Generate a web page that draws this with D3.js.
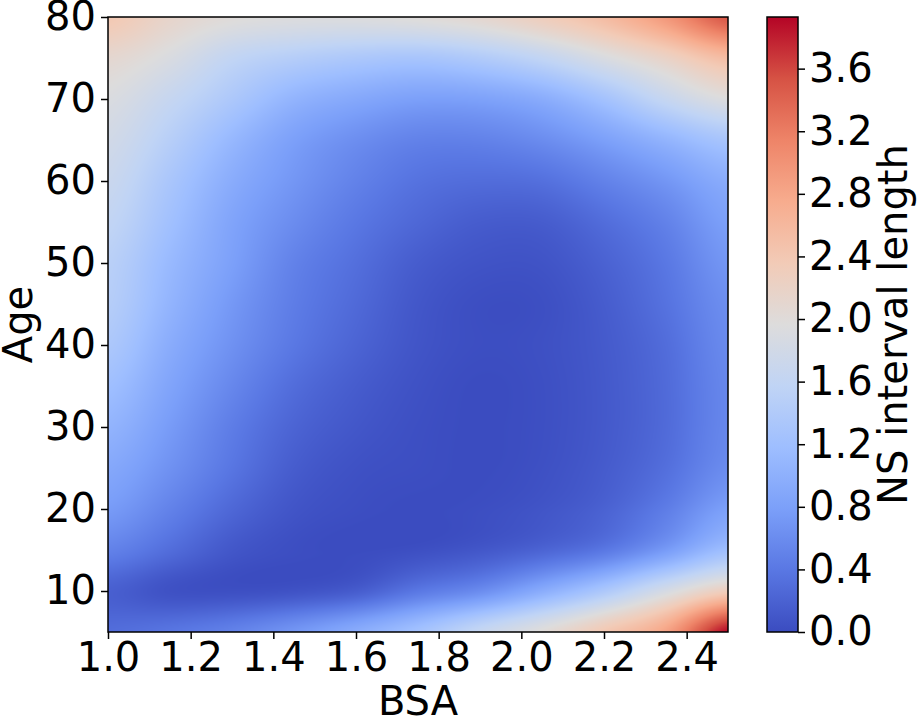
<!DOCTYPE html>
<html>
<head>
<meta charset="utf-8">
<script src="https://cdn.jsdelivr.net/npm/d3@7"></script>
<style>
  body { margin: 0; background: #fff; }
  text { font-family: "DejaVu Sans", sans-serif; fill: #000; }
</style>
</head>
<body>
<svg id="chart" width="918" height="719"></svg>
<script>
// grid the surface was read on
const bsaValues = [1.0, 1.15, 1.3, 1.45, 1.6, 1.75, 1.9, 2.05, 2.2, 2.35, 2.5];
const ageValues = [5, 10, 15, 20, 25, 30, 35, 40, 45, 50, 55, 60, 65, 70, 75, 80];

// NS interval length, one row per age (5 -> 80), one column per BSA value
const nsLength = [
  [0.30, 0.38, 0.50, 0.70, 0.95, 1.25, 1.65, 2.00, 2.40, 2.85, 3.90],
  [0.18, 0.05, 0.03, 0.06, 0.15, 0.40, 0.60, 0.95, 1.35, 1.85, 2.30],
  [0.50, 0.30, 0.10, 0.02, 0.00, 0.03, 0.10, 0.22, 0.40, 0.75, 1.20],
  [0.75, 0.50, 0.25, 0.08, 0.02, 0.00, 0.02, 0.08, 0.20, 0.45, 0.80],
  [0.90, 0.65, 0.38, 0.15, 0.05, 0.02, 0.00, 0.04, 0.14, 0.32, 0.60],
  [1.05, 0.75, 0.45, 0.22, 0.10, 0.03, 0.00, 0.03, 0.12, 0.28, 0.55],
  [1.20, 0.85, 0.55, 0.30, 0.15, 0.05, 0.00, 0.03, 0.12, 0.28, 0.55],
  [1.35, 0.95, 0.65, 0.40, 0.22, 0.08, 0.02, 0.04, 0.13, 0.30, 0.58],
  [1.45, 1.05, 0.72, 0.45, 0.27, 0.10, 0.02, 0.03, 0.15, 0.35, 0.62],
  [1.50, 1.12, 0.80, 0.50, 0.32, 0.15, 0.07, 0.07, 0.20, 0.40, 0.70],
  [1.60, 1.22, 0.85, 0.60, 0.40, 0.25, 0.15, 0.15, 0.30, 0.50, 0.80],
  [1.70, 1.32, 0.95, 0.70, 0.50, 0.35, 0.30, 0.33, 0.50, 0.70, 0.95],
  [1.80, 1.47, 1.10, 0.80, 0.62, 0.50, 0.50, 0.60, 0.80, 1.05, 1.30],
  [1.92, 1.65, 1.35, 1.05, 0.90, 0.80, 0.82, 0.95, 1.25, 1.65, 1.95],
  [2.10, 1.90, 1.60, 1.45, 1.35, 1.30, 1.40, 1.60, 1.90, 2.20, 2.55],
  [2.40, 2.15, 2.00, 1.95, 1.95, 2.00, 2.10, 2.30, 2.55, 2.95, 3.50]
];

const xTicks = [1.0, 1.2, 1.4, 1.6, 1.8, 2.0, 2.2, 2.4];
const yTicks = [10, 20, 30, 40, 50, 60, 70, 80];
const cbTicks = [0.0, 0.4, 0.8, 1.2, 1.6, 2.0, 2.4, 2.8, 3.2, 3.6];
const vmax = 3.93;

// matplotlib coolwarm sampled at 0, 0.1, ... 1
const coolwarm = ["#3b4cc0", "#5977e3", "#7b9ff9", "#9ebeff", "#c0d4f5", "#dddcdc",
                  "#f2cbb7", "#f7ac8e", "#ee8468", "#d65244", "#b40426"];

const plot = { left: 108, top: 17, width: 620, height: 615 };
const bar = { left: 767, width: 31 };
const fs = 40;

const svg = d3.select("#chart");
svg.append("rect").attr("width", 918).attr("height", 719).attr("fill", "#fff");

const x = d3.scaleLinear().domain([1.0, 2.5]).range([plot.left, plot.left + plot.width]);
const y = d3.scaleLinear().domain([5, 80]).range([plot.top + plot.height, plot.top]);
const cScale = d3.scaleLinear()
  .domain(coolwarm.map((c, i) => i / (coolwarm.length - 1) * vmax))
  .range(coolwarm)
  .clamp(true);

// smooth the read grid for display (catmull-rom)
function cubic(p0, p1, p2, p3, t) {
  return p1 + 0.5 * t * (p2 - p0 + t * (2 * p0 - 5 * p1 + 4 * p2 - p3 + t * (3 * (p1 - p2) + p3 - p0)));
}
const nx = bsaValues.length, ny = ageValues.length;
function cell(i, j) {
  i = Math.max(0, Math.min(nx - 1, i));
  j = Math.max(0, Math.min(ny - 1, j));
  return nsLength[j][i];
}
const gi = d3.scaleLinear().domain(d3.extent(bsaValues)).range([0, nx - 1]);
const gj = d3.scaleLinear().domain(d3.extent(ageValues)).range([0, ny - 1]);
function sample(bsa, age) {
  const fi = gi(bsa), fj = gj(age);
  const i = Math.min(nx - 2, Math.floor(fi)), j = Math.min(ny - 2, Math.floor(fj));
  const tx = fi - i, ty = fj - j;
  const rows = [];
  for (let k = -1; k <= 2; k++) {
    rows.push(cubic(cell(i - 1, j + k), cell(i, j + k), cell(i + 1, j + k), cell(i + 2, j + k), tx));
  }
  return Math.max(0, cubic(rows[0], rows[1], rows[2], rows[3], ty));
}

// heat image
const canvas = document.createElement("canvas");
canvas.width = plot.width;
canvas.height = plot.height;
const ctx = canvas.getContext("2d");
const img = ctx.createImageData(plot.width, plot.height);
for (let py = 0; py < plot.height; py++) {
  const age = y.invert(plot.top + py + 0.5);
  for (let px = 0; px < plot.width; px++) {
    const bsa = x.invert(plot.left + px + 0.5);
    const c = d3.rgb(cScale(sample(bsa, age)));
    const k = (py * plot.width + px) * 4;
    img.data[k] = c.r; img.data[k + 1] = c.g; img.data[k + 2] = c.b; img.data[k + 3] = 255;
  }
}
ctx.putImageData(img, 0, 0);

svg.append("image")
  .attr("x", plot.left).attr("y", plot.top)
  .attr("width", plot.width).attr("height", plot.height)
  .attr("preserveAspectRatio", "none")
  .attr("href", canvas.toDataURL());

svg.append("rect")
  .attr("x", plot.left).attr("y", plot.top)
  .attr("width", plot.width).attr("height", plot.height)
  .attr("fill", "none").attr("stroke", "#000").attr("stroke-width", 1.5);

// axes
const xAxis = svg.append("g")
  .attr("transform", `translate(0,${plot.top + plot.height})`)
  .call(d3.axisBottom(x).tickValues(xTicks).tickFormat(d3.format(".1f")).tickSize(7).tickPadding(4));
const yAxis = svg.append("g")
  .attr("transform", `translate(${plot.left},0)`)
  .call(d3.axisLeft(y).tickValues(yTicks).tickSize(7).tickPadding(5));
[xAxis, yAxis].forEach(g => {
  g.select(".domain").remove();
  g.selectAll(".tick line").attr("stroke", "#000").attr("stroke-width", 1.5);
  g.selectAll(".tick text").attr("font-size", fs).attr("font-family", "DejaVu Sans").attr("fill", "#000");
});

svg.append("text")
  .attr("x", x(1.75)).attr("y", 715)
  .attr("text-anchor", "middle").attr("font-size", fs)
  .text("BSA");
svg.append("text")
  .attr("transform", `translate(32,${y(42.5)}) rotate(-90)`)
  .attr("text-anchor", "middle").attr("font-size", fs)
  .text("Age");

// colorbar
const cbY = d3.scaleLinear().domain([0, vmax]).range([plot.top + plot.height, plot.top]);
const grad = svg.append("defs").append("linearGradient")
  .attr("id", "cbgrad").attr("x1", 0).attr("y1", 1).attr("x2", 0).attr("y2", 0);
grad.selectAll("stop").data(coolwarm).join("stop")
  .attr("offset", (d, i) => i / (coolwarm.length - 1))
  .attr("stop-color", d => d);
svg.append("rect")
  .attr("x", bar.left).attr("y", plot.top)
  .attr("width", bar.width).attr("height", plot.height)
  .attr("fill", "url(#cbgrad)")
  .attr("stroke", "#000").attr("stroke-width", 1.5);

const cbAxis = svg.append("g")
  .attr("transform", `translate(${bar.left + bar.width},0)`)
  .call(d3.axisRight(cbY).tickValues(cbTicks).tickFormat(d3.format(".1f")).tickSize(7).tickPadding(4));
cbAxis.select(".domain").remove();
cbAxis.selectAll(".tick line").attr("stroke", "#000").attr("stroke-width", 1.5);
cbAxis.selectAll(".tick text").attr("font-size", fs).attr("font-family", "DejaVu Sans").attr("fill", "#000");

svg.append("text")
  .attr("transform", `translate(907,${plot.top + plot.height / 2}) rotate(-90)`)
  .attr("text-anchor", "middle").attr("font-size", fs)
  .text("NS interval length");
</script>
</body>
</html>
